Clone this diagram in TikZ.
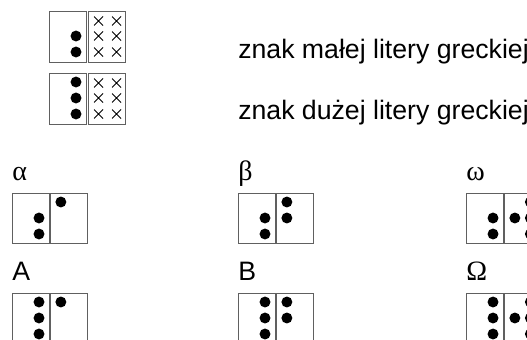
\documentclass[tikz,border=0pt]{standalone}
\usepackage{fontspec}
\setmainfont{Liberation Sans}
\newfontfamily\greekfont{Liberation Serif}
\usetikzlibrary{positioning}

% one braille dot / one cross, placed from the north west corner of a cell
\newcommand{\brdot}[3]{\fill ([shift={(#2,#3)}]#1.north west) circle[radius=4.1pt];}
\newcommand{\brcross}[3]{%
  \draw[line width=0.6pt] ([shift={(#2-4.5,#3-4.5)}]#1.north west) -- ++(9,9)
        ([shift={(#2+4.5,#3-4.5)}]#1.north west) -- ++(-9,9);}

\tikzset{
  cellbox/.style={draw=gray!75!black, line width=0.75pt, minimum width=27.75pt,
                  minimum height=37.5pt, inner sep=0pt, outer sep=0pt},
  txt/.style={font=\fontsize{20}{24}\selectfont, inner sep=0pt, anchor=base west},
  grk/.style={font=\fontsize{21}{24}\selectfont\greekfont, inner sep=0pt, anchor=base west}
}

\begin{document}
\begin{tikzpicture}[x=0.75pt, y=-0.75pt]
        \useasboundingbox (0,0) rectangle (527,339);

        % key: prefix for small and capital letter
        \node[cellbox, anchor=north west, minimum height=38.25pt] (small1) at (49,11) {};
        \node[cellbox, minimum height=38.25pt, right=1.9pt of small1] (small2) {};
        \node[cellbox, anchor=north west, minimum height=38.25pt] (cap1) at (49,73) {};
        \node[cellbox, minimum height=38.25pt, right=1.9pt of cap1] (cap2) {};
        \brdot{small1}{27}{25} \brdot{small1}{27}{41}
        \brdot{cap1}{27}{9} \brdot{cap1}{27}{25} \brdot{cap1}{27}{41}
        \foreach \row in {10,25,41} {
                \brcross{small2}{10}{\row} \brcross{small2}{28}{\row}
                \brcross{cap2}{10}{\row} \brcross{cap2}{28}{\row}
        }
        \node[txt] (smalltxt) at (238,58) {znak małej litery greckiej};
        \node[txt] (captxt) at (238,119) {znak dużej litery greckiej};

        % alpha / A
        \node[grk] (alpha) at (12,180) {α};
        \node[cellbox, anchor=north west] (alpha1) at (12,193) {};
        \node[cellbox, right=1.4pt of alpha1] (alpha2) {};
        \brdot{alpha1}{27}{25} \brdot{alpha1}{27}{41}
        \brdot{alpha2}{10}{9}
        \node[txt] (Alpha) at (12,280) {A};
        \node[cellbox, anchor=north west] (Alpha1) at (12,293) {};
        \node[cellbox, right=1.4pt of Alpha1] (Alpha2) {};
        \brdot{Alpha1}{27}{9} \brdot{Alpha1}{27}{25} \brdot{Alpha1}{27}{41}
        \brdot{Alpha2}{10}{9}

        % beta / B
        \node[grk] (beta) at (238,180) {β};
        \node[cellbox, anchor=north west] (beta1) at (238,193) {};
        \node[cellbox, right=1.4pt of beta1] (beta2) {};
        \brdot{beta1}{27}{25} \brdot{beta1}{27}{41}
        \brdot{beta2}{10}{9} \brdot{beta2}{10}{25}
        \node[txt] (Beta) at (238,280) {B};
        \node[cellbox, anchor=north west] (Beta1) at (238,293) {};
        \node[cellbox, right=1.4pt of Beta1] (Beta2) {};
        \brdot{Beta1}{27}{9} \brdot{Beta1}{27}{25} \brdot{Beta1}{27}{41}
        \brdot{Beta2}{10}{9} \brdot{Beta2}{10}{25}

        % omega / Omega
        \node[grk] (omega) at (466,180) {ω};
        \node[cellbox, anchor=north west] (omega1) at (466,193) {};
        \node[cellbox, right=1.4pt of omega1] (omega2) {};
        \brdot{omega1}{27}{25} \brdot{omega1}{27}{41}
        \brdot{omega2}{10}{25}
        \brdot{omega2}{25.5}{9} \brdot{omega2}{25.5}{25} \brdot{omega2}{25.5}{41}
        \node[grk] (Omega) at (466,280) {Ω};
        \node[cellbox, anchor=north west] (Omega1) at (466,293) {};
        \node[cellbox, right=1.4pt of Omega1] (Omega2) {};
        \brdot{Omega1}{27}{9} \brdot{Omega1}{27}{25} \brdot{Omega1}{27}{41}
        \brdot{Omega2}{10}{25}
        \brdot{Omega2}{25.5}{9} \brdot{Omega2}{25.5}{25} \brdot{Omega2}{25.5}{41}
\end{tikzpicture}
\end{document}
